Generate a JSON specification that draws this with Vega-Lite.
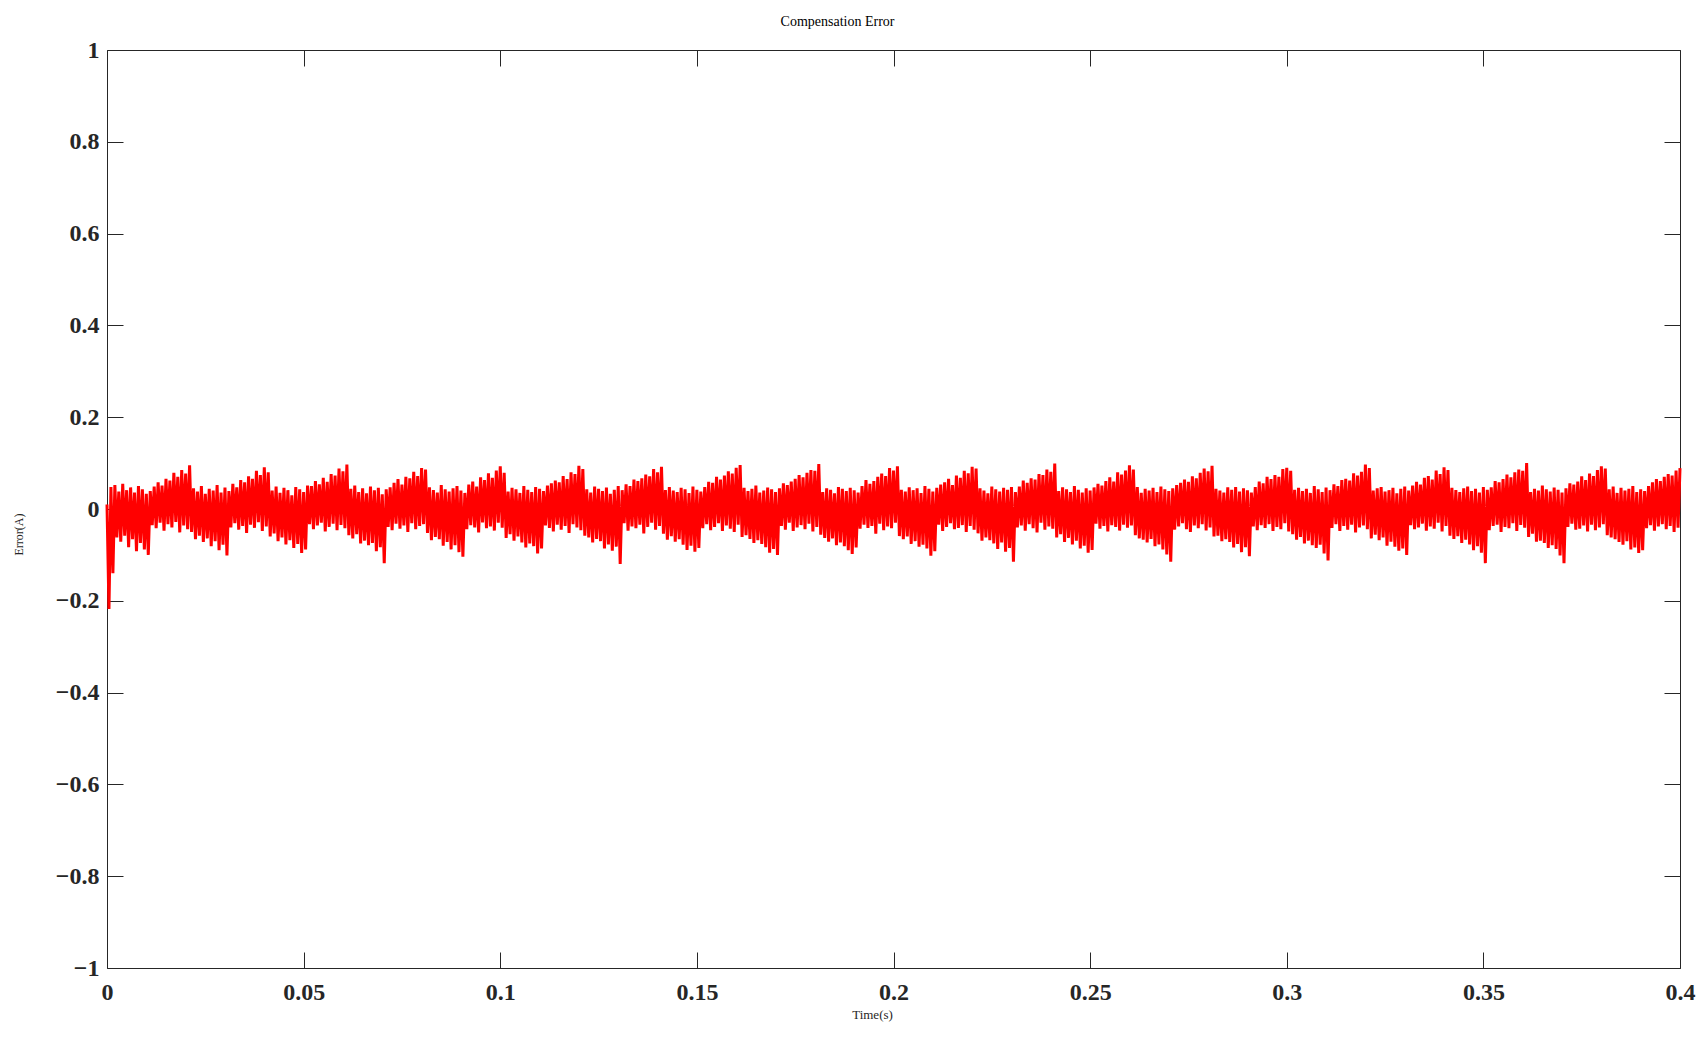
{
  "$schema": "https://vega.github.io/schema/vega-lite/v6.json",
  "width": 1573,
  "height": 918,
  "autosize": {"type": "none"},
  "padding": {"left": 107, "top": 50, "right": 26, "bottom": 70},
  "background": "white",
  "title": {
    "text": "Compensation Error",
    "font": "Liberation Serif",
    "fontSize": 14,
    "fontWeight": "normal",
    "color": "black",
    "anchor": "middle",
    "dx": -56,
    "offset": 9
  },
  "config": {
    "view": {"stroke": null},
    "axis": {
      "grid": false,
      "domainColor": "#262626",
      "domainWidth": 1,
      "tickColor": "#262626",
      "tickWidth": 1,
      "tickSize": -16,
      "labelFont": "Liberation Serif",
      "labelFontWeight": "bold",
      "labelFontSize": 24,
      "labelColor": "#262626",
      "labelFlush": false,
      "labelOverlap": false,
      "titleFont": "Liberation Serif",
      "titleFontWeight": "normal",
      "titleColor": "#262626"
    }
  },
  "data": {"values": [
{"t":0.0000,"e":0.010},{"t":0.0005,"e":-0.218},{"t":0.0010,"e":0.048},{"t":0.0015,"e":-0.140},{"t":0.0020,"e":0.052},{"t":0.0025,"e":-0.062},{"t":0.0030,"e":0.038},{"t":0.0035,"e":-0.071},{"t":0.0040,"e":0.055},{"t":0.0045,"e":-0.058},{"t":0.0050,"e":0.041},{"t":0.0055,"e":-0.083},{"t":0.0060,"e":0.047},{"t":0.0065,"e":-0.066},{"t":0.0070,"e":0.036},{"t":0.0075,"e":-0.092},{"t":0.0080,"e":0.050},{"t":0.0085,"e":-0.074},{"t":0.0090,"e":0.043},{"t":0.0095,"e":-0.088},{"t":0.0100,"e":0.033},{"t":0.0105,"e":-0.100},{"t":0.0110,"e":0.039},
{"t":0.0115,"e":-0.035},{"t":0.0120,"e":0.049},{"t":0.0125,"e":-0.042},{"t":0.0130,"e":0.058},{"t":0.0135,"e":-0.030},{"t":0.0140,"e":0.051},{"t":0.0145,"e":-0.047},{"t":0.0150,"e":0.066},{"t":0.0155,"e":-0.033},{"t":0.0160,"e":0.062},{"t":0.0165,"e":-0.040},{"t":0.0170,"e":0.079},{"t":0.0175,"e":-0.028},{"t":0.0180,"e":0.070},{"t":0.0185,"e":-0.051},{"t":0.0190,"e":0.085},{"t":0.0195,"e":-0.036},{"t":0.0200,"e":0.077},{"t":0.0205,"e":-0.044},{"t":0.0210,"e":0.095},
{"t":0.0215,"e":-0.050},{"t":0.0220,"e":0.045},{"t":0.0225,"e":-0.066},{"t":0.0230,"e":0.038},{"t":0.0235,"e":-0.058},{"t":0.0240,"e":0.050},{"t":0.0245,"e":-0.072},{"t":0.0250,"e":0.033},{"t":0.0255,"e":-0.064},{"t":0.0260,"e":0.044},{"t":0.0265,"e":-0.081},{"t":0.0270,"e":0.040},{"t":0.0275,"e":-0.070},{"t":0.0280,"e":0.052},{"t":0.0285,"e":-0.090},{"t":0.0290,"e":0.036},{"t":0.0295,"e":-0.078},{"t":0.0300,"e":0.047},{"t":0.0305,"e":-0.101},{"t":0.0310,"e":0.039},
{"t":0.0315,"e":-0.040},{"t":0.0320,"e":0.055},{"t":0.0325,"e":-0.031},{"t":0.0330,"e":0.047},{"t":0.0335,"e":-0.045},{"t":0.0340,"e":0.063},{"t":0.0345,"e":-0.037},{"t":0.0350,"e":0.058},{"t":0.0355,"e":-0.052},{"t":0.0360,"e":0.071},{"t":0.0365,"e":-0.034},{"t":0.0370,"e":0.066},{"t":0.0375,"e":-0.041},{"t":0.0380,"e":0.083},{"t":0.0385,"e":-0.029},{"t":0.0390,"e":0.074},{"t":0.0395,"e":-0.048},{"t":0.0400,"e":0.091},{"t":0.0405,"e":-0.038},{"t":0.0410,"e":0.080},
{"t":0.0415,"e":-0.060},{"t":0.0420,"e":0.040},{"t":0.0425,"e":-0.053},{"t":0.0430,"e":0.049},{"t":0.0435,"e":-0.070},{"t":0.0440,"e":0.035},{"t":0.0445,"e":-0.062},{"t":0.0450,"e":0.046},{"t":0.0455,"e":-0.077},{"t":0.0460,"e":0.041},{"t":0.0465,"e":-0.068},{"t":0.0470,"e":0.030},{"t":0.0475,"e":-0.085},{"t":0.0480,"e":0.048},{"t":0.0485,"e":-0.076},{"t":0.0490,"e":0.043},{"t":0.0495,"e":-0.096},{"t":0.0500,"e":0.037},{"t":0.0505,"e":-0.088},{"t":0.0510,"e":0.051},
{"t":0.0515,"e":-0.033},{"t":0.0520,"e":0.050},{"t":0.0525,"e":-0.044},{"t":0.0530,"e":0.061},{"t":0.0535,"e":-0.036},{"t":0.0540,"e":0.054},{"t":0.0545,"e":-0.030},{"t":0.0550,"e":0.068},{"t":0.0555,"e":-0.049},{"t":0.0560,"e":0.059},{"t":0.0565,"e":-0.039},{"t":0.0570,"e":0.076},{"t":0.0575,"e":-0.032},{"t":0.0580,"e":0.073},{"t":0.0585,"e":-0.046},{"t":0.0590,"e":0.088},{"t":0.0595,"e":-0.035},{"t":0.0600,"e":0.082},{"t":0.0605,"e":-0.042},{"t":0.0610,"e":0.097},
{"t":0.0615,"e":-0.057},{"t":0.0620,"e":0.044},{"t":0.0625,"e":-0.064},{"t":0.0630,"e":0.051},{"t":0.0635,"e":-0.055},{"t":0.0640,"e":0.037},{"t":0.0645,"e":-0.075},{"t":0.0650,"e":0.045},{"t":0.0655,"e":-0.069},{"t":0.0660,"e":0.034},{"t":0.0665,"e":-0.079},{"t":0.0670,"e":0.049},{"t":0.0675,"e":-0.074},{"t":0.0680,"e":0.041},{"t":0.0685,"e":-0.092},{"t":0.0690,"e":0.046},{"t":0.0695,"e":-0.083},{"t":0.0700,"e":0.032},{"t":0.0705,"e":-0.118},{"t":0.0710,"e":0.043},
{"t":0.0715,"e":-0.039},{"t":0.0720,"e":0.047},{"t":0.0725,"e":-0.046},{"t":0.0730,"e":0.057},{"t":0.0735,"e":-0.032},{"t":0.0740,"e":0.065},{"t":0.0745,"e":-0.043},{"t":0.0750,"e":0.053},{"t":0.0755,"e":-0.036},{"t":0.0760,"e":0.070},{"t":0.0765,"e":-0.050},{"t":0.0770,"e":0.067},{"t":0.0775,"e":-0.031},{"t":0.0780,"e":0.081},{"t":0.0785,"e":-0.044},{"t":0.0790,"e":0.072},{"t":0.0795,"e":-0.037},{"t":0.0800,"e":0.089},{"t":0.0805,"e":-0.033},{"t":0.0810,"e":0.086},
{"t":0.0815,"e":-0.052},{"t":0.0820,"e":0.047},{"t":0.0825,"e":-0.068},{"t":0.0830,"e":0.041},{"t":0.0835,"e":-0.061},{"t":0.0840,"e":0.036},{"t":0.0845,"e":-0.066},{"t":0.0850,"e":0.052},{"t":0.0855,"e":-0.080},{"t":0.0860,"e":0.043},{"t":0.0865,"e":-0.072},{"t":0.0870,"e":0.038},{"t":0.0875,"e":-0.088},{"t":0.0880,"e":0.045},{"t":0.0885,"e":-0.079},{"t":0.0890,"e":0.050},{"t":0.0895,"e":-0.094},{"t":0.0900,"e":0.040},{"t":0.0905,"e":-0.104},{"t":0.0910,"e":0.035},
{"t":0.0915,"e":-0.044},{"t":0.0920,"e":0.053},{"t":0.0925,"e":-0.035},{"t":0.0930,"e":0.060},{"t":0.0935,"e":-0.040},{"t":0.0940,"e":0.049},{"t":0.0945,"e":-0.051},{"t":0.0950,"e":0.069},{"t":0.0955,"e":-0.029},{"t":0.0960,"e":0.063},{"t":0.0965,"e":-0.042},{"t":0.0970,"e":0.078},{"t":0.0975,"e":-0.038},{"t":0.0980,"e":0.068},{"t":0.0985,"e":-0.047},{"t":0.0990,"e":0.084},{"t":0.0995,"e":-0.030},{"t":0.1000,"e":0.093},{"t":0.1005,"e":-0.041},{"t":0.1010,"e":0.079},
{"t":0.1015,"e":-0.063},{"t":0.1020,"e":0.038},{"t":0.1025,"e":-0.055},{"t":0.1030,"e":0.046},{"t":0.1035,"e":-0.069},{"t":0.1040,"e":0.043},{"t":0.1045,"e":-0.060},{"t":0.1050,"e":0.035},{"t":0.1055,"e":-0.073},{"t":0.1060,"e":0.050},{"t":0.1065,"e":-0.084},{"t":0.1070,"e":0.042},{"t":0.1075,"e":-0.075},{"t":0.1080,"e":0.037},{"t":0.1085,"e":-0.081},{"t":0.1090,"e":0.048},{"t":0.1095,"e":-0.097},{"t":0.1100,"e":0.044},{"t":0.1105,"e":-0.086},{"t":0.1110,"e":0.039},
{"t":0.1115,"e":-0.036},{"t":0.1120,"e":0.051},{"t":0.1125,"e":-0.041},{"t":0.1130,"e":0.056},{"t":0.1135,"e":-0.049},{"t":0.1140,"e":0.062},{"t":0.1145,"e":-0.034},{"t":0.1150,"e":0.058},{"t":0.1155,"e":-0.045},{"t":0.1160,"e":0.072},{"t":0.1165,"e":-0.037},{"t":0.1170,"e":0.065},{"t":0.1175,"e":-0.052},{"t":0.1180,"e":0.080},{"t":0.1185,"e":-0.033},{"t":0.1190,"e":0.076},{"t":0.1195,"e":-0.040},{"t":0.1200,"e":0.094},{"t":0.1205,"e":-0.046},{"t":0.1210,"e":0.087},
{"t":0.1215,"e":-0.058},{"t":0.1220,"e":0.043},{"t":0.1225,"e":-0.062},{"t":0.1230,"e":0.036},{"t":0.1235,"e":-0.073},{"t":0.1240,"e":0.049},{"t":0.1245,"e":-0.065},{"t":0.1250,"e":0.044},{"t":0.1255,"e":-0.070},{"t":0.1260,"e":0.039},{"t":0.1265,"e":-0.086},{"t":0.1270,"e":0.047},{"t":0.1275,"e":-0.077},{"t":0.1280,"e":0.033},{"t":0.1285,"e":-0.091},{"t":0.1290,"e":0.042},{"t":0.1295,"e":-0.082},{"t":0.1300,"e":0.050},{"t":0.1305,"e":-0.120},{"t":0.1310,"e":0.041},
{"t":0.1315,"e":-0.031},{"t":0.1320,"e":0.054},{"t":0.1325,"e":-0.047},{"t":0.1330,"e":0.050},{"t":0.1335,"e":-0.038},{"t":0.1340,"e":0.064},{"t":0.1345,"e":-0.042},{"t":0.1350,"e":0.061},{"t":0.1355,"e":-0.034},{"t":0.1360,"e":0.067},{"t":0.1365,"e":-0.053},{"t":0.1370,"e":0.075},{"t":0.1375,"e":-0.039},{"t":0.1380,"e":0.071},{"t":0.1385,"e":-0.030},{"t":0.1390,"e":0.087},{"t":0.1395,"e":-0.045},{"t":0.1400,"e":0.080},{"t":0.1405,"e":-0.037},{"t":0.1410,"e":0.092},
{"t":0.1415,"e":-0.054},{"t":0.1420,"e":0.041},{"t":0.1425,"e":-0.067},{"t":0.1430,"e":0.048},{"t":0.1435,"e":-0.059},{"t":0.1440,"e":0.040},{"t":0.1445,"e":-0.071},{"t":0.1450,"e":0.037},{"t":0.1455,"e":-0.066},{"t":0.1460,"e":0.046},{"t":0.1465,"e":-0.078},{"t":0.1470,"e":0.043},{"t":0.1475,"e":-0.089},{"t":0.1480,"e":0.035},{"t":0.1485,"e":-0.080},{"t":0.1490,"e":0.049},{"t":0.1495,"e":-0.093},{"t":0.1500,"e":0.042},{"t":0.1505,"e":-0.085},{"t":0.1510,"e":0.038},
{"t":0.1515,"e":-0.042},{"t":0.1520,"e":0.048},{"t":0.1525,"e":-0.033},{"t":0.1530,"e":0.059},{"t":0.1535,"e":-0.046},{"t":0.1540,"e":0.057},{"t":0.1545,"e":-0.039},{"t":0.1550,"e":0.070},{"t":0.1555,"e":-0.031},{"t":0.1560,"e":0.064},{"t":0.1565,"e":-0.048},{"t":0.1570,"e":0.073},{"t":0.1575,"e":-0.036},{"t":0.1580,"e":0.082},{"t":0.1585,"e":-0.043},{"t":0.1590,"e":0.077},{"t":0.1595,"e":-0.050},{"t":0.1600,"e":0.090},{"t":0.1605,"e":-0.034},{"t":0.1610,"e":0.096},
{"t":0.1615,"e":-0.061},{"t":0.1620,"e":0.046},{"t":0.1625,"e":-0.057},{"t":0.1630,"e":0.039},{"t":0.1635,"e":-0.065},{"t":0.1640,"e":0.044},{"t":0.1645,"e":-0.074},{"t":0.1650,"e":0.051},{"t":0.1655,"e":-0.068},{"t":0.1660,"e":0.036},{"t":0.1665,"e":-0.076},{"t":0.1670,"e":0.040},{"t":0.1675,"e":-0.083},{"t":0.1680,"e":0.047},{"t":0.1685,"e":-0.095},{"t":0.1690,"e":0.043},{"t":0.1695,"e":-0.087},{"t":0.1700,"e":0.037},{"t":0.1705,"e":-0.100},{"t":0.1710,"e":0.045},
{"t":0.1715,"e":-0.037},{"t":0.1720,"e":0.056},{"t":0.1725,"e":-0.045},{"t":0.1730,"e":0.052},{"t":0.1735,"e":-0.030},{"t":0.1740,"e":0.060},{"t":0.1745,"e":-0.048},{"t":0.1750,"e":0.066},{"t":0.1755,"e":-0.040},{"t":0.1760,"e":0.074},{"t":0.1765,"e":-0.035},{"t":0.1770,"e":0.069},{"t":0.1775,"e":-0.044},{"t":0.1780,"e":0.079},{"t":0.1785,"e":-0.032},{"t":0.1790,"e":0.085},{"t":0.1795,"e":-0.049},{"t":0.1800,"e":0.083},{"t":0.1805,"e":-0.039},{"t":0.1810,"e":0.098},
{"t":0.1815,"e":-0.056},{"t":0.1820,"e":0.037},{"t":0.1825,"e":-0.063},{"t":0.1830,"e":0.045},{"t":0.1835,"e":-0.071},{"t":0.1840,"e":0.042},{"t":0.1845,"e":-0.064},{"t":0.1850,"e":0.034},{"t":0.1855,"e":-0.079},{"t":0.1860,"e":0.048},{"t":0.1865,"e":-0.073},{"t":0.1870,"e":0.044},{"t":0.1875,"e":-0.081},{"t":0.1880,"e":0.039},{"t":0.1885,"e":-0.090},{"t":0.1890,"e":0.046},{"t":0.1895,"e":-0.098},{"t":0.1900,"e":0.041},{"t":0.1905,"e":-0.084},{"t":0.1910,"e":0.036},
{"t":0.1915,"e":-0.043},{"t":0.1920,"e":0.050},{"t":0.1925,"e":-0.034},{"t":0.1930,"e":0.063},{"t":0.1935,"e":-0.041},{"t":0.1940,"e":0.055},{"t":0.1945,"e":-0.037},{"t":0.1950,"e":0.061},{"t":0.1955,"e":-0.054},{"t":0.1960,"e":0.070},{"t":0.1965,"e":-0.032},{"t":0.1970,"e":0.077},{"t":0.1975,"e":-0.046},{"t":0.1980,"e":0.072},{"t":0.1985,"e":-0.038},{"t":0.1990,"e":0.089},{"t":0.1995,"e":-0.042},{"t":0.2000,"e":0.084},{"t":0.2005,"e":-0.030},{"t":0.2010,"e":0.093},
{"t":0.2015,"e":-0.059},{"t":0.2020,"e":0.042},{"t":0.2025,"e":-0.066},{"t":0.2030,"e":0.038},{"t":0.2035,"e":-0.060},{"t":0.2040,"e":0.047},{"t":0.2045,"e":-0.076},{"t":0.2050,"e":0.041},{"t":0.2055,"e":-0.070},{"t":0.2060,"e":0.045},{"t":0.2065,"e":-0.082},{"t":0.2070,"e":0.035},{"t":0.2075,"e":-0.078},{"t":0.2080,"e":0.050},{"t":0.2085,"e":-0.086},{"t":0.2090,"e":0.044},{"t":0.2095,"e":-0.102},{"t":0.2100,"e":0.038},{"t":0.2105,"e":-0.092},{"t":0.2110,"e":0.046},
{"t":0.2115,"e":-0.034},{"t":0.2120,"e":0.053},{"t":0.2125,"e":-0.048},{"t":0.2130,"e":0.058},{"t":0.2135,"e":-0.039},{"t":0.2140,"e":0.066},{"t":0.2145,"e":-0.031},{"t":0.2150,"e":0.052},{"t":0.2155,"e":-0.044},{"t":0.2160,"e":0.073},{"t":0.2165,"e":-0.041},{"t":0.2170,"e":0.068},{"t":0.2175,"e":-0.035},{"t":0.2180,"e":0.083},{"t":0.2185,"e":-0.050},{"t":0.2190,"e":0.078},{"t":0.2195,"e":-0.037},{"t":0.2200,"e":0.092},{"t":0.2205,"e":-0.045},{"t":0.2210,"e":0.088},
{"t":0.2215,"e":-0.053},{"t":0.2220,"e":0.045},{"t":0.2225,"e":-0.069},{"t":0.2230,"e":0.040},{"t":0.2235,"e":-0.062},{"t":0.2240,"e":0.034},{"t":0.2245,"e":-0.068},{"t":0.2250,"e":0.049},{"t":0.2255,"e":-0.075},{"t":0.2260,"e":0.043},{"t":0.2265,"e":-0.087},{"t":0.2270,"e":0.038},{"t":0.2275,"e":-0.073},{"t":0.2280,"e":0.046},{"t":0.2285,"e":-0.093},{"t":0.2290,"e":0.042},{"t":0.2295,"e":-0.085},{"t":0.2300,"e":0.048},{"t":0.2305,"e":-0.115},{"t":0.2310,"e":0.037},
{"t":0.2315,"e":-0.040},{"t":0.2320,"e":0.049},{"t":0.2325,"e":-0.036},{"t":0.2330,"e":0.062},{"t":0.2335,"e":-0.047},{"t":0.2340,"e":0.057},{"t":0.2345,"e":-0.033},{"t":0.2350,"e":0.067},{"t":0.2355,"e":-0.042},{"t":0.2360,"e":0.064},{"t":0.2365,"e":-0.051},{"t":0.2370,"e":0.076},{"t":0.2375,"e":-0.030},{"t":0.2380,"e":0.074},{"t":0.2385,"e":-0.045},{"t":0.2390,"e":0.086},{"t":0.2395,"e":-0.038},{"t":0.2400,"e":0.081},{"t":0.2405,"e":-0.043},{"t":0.2410,"e":0.099},
{"t":0.2415,"e":-0.062},{"t":0.2420,"e":0.039},{"t":0.2425,"e":-0.055},{"t":0.2430,"e":0.047},{"t":0.2435,"e":-0.072},{"t":0.2440,"e":0.043},{"t":0.2445,"e":-0.063},{"t":0.2450,"e":0.037},{"t":0.2455,"e":-0.077},{"t":0.2460,"e":0.050},{"t":0.2465,"e":-0.069},{"t":0.2470,"e":0.042},{"t":0.2475,"e":-0.086},{"t":0.2480,"e":0.036},{"t":0.2485,"e":-0.080},{"t":0.2490,"e":0.045},{"t":0.2495,"e":-0.095},{"t":0.2500,"e":0.040},{"t":0.2505,"e":-0.089},{"t":0.2510,"e":0.047},
{"t":0.2515,"e":-0.032},{"t":0.2520,"e":0.055},{"t":0.2525,"e":-0.043},{"t":0.2530,"e":0.051},{"t":0.2535,"e":-0.037},{"t":0.2540,"e":0.061},{"t":0.2545,"e":-0.049},{"t":0.2550,"e":0.069},{"t":0.2555,"e":-0.035},{"t":0.2560,"e":0.060},{"t":0.2565,"e":-0.039},{"t":0.2570,"e":0.080},{"t":0.2575,"e":-0.047},{"t":0.2580,"e":0.075},{"t":0.2585,"e":-0.034},{"t":0.2590,"e":0.084},{"t":0.2595,"e":-0.041},{"t":0.2600,"e":0.095},{"t":0.2605,"e":-0.036},{"t":0.2610,"e":0.086},
{"t":0.2615,"e":-0.057},{"t":0.2620,"e":0.048},{"t":0.2625,"e":-0.064},{"t":0.2630,"e":0.035},{"t":0.2635,"e":-0.067},{"t":0.2640,"e":0.044},{"t":0.2645,"e":-0.073},{"t":0.2650,"e":0.040},{"t":0.2655,"e":-0.065},{"t":0.2660,"e":0.046},{"t":0.2665,"e":-0.081},{"t":0.2670,"e":0.037},{"t":0.2675,"e":-0.077},{"t":0.2680,"e":0.049},{"t":0.2685,"e":-0.088},{"t":0.2690,"e":0.043},{"t":0.2695,"e":-0.099},{"t":0.2700,"e":0.039},{"t":0.2705,"e":-0.115},{"t":0.2710,"e":0.045},
{"t":0.2715,"e":-0.045},{"t":0.2720,"e":0.052},{"t":0.2725,"e":-0.038},{"t":0.2730,"e":0.057},{"t":0.2735,"e":-0.031},{"t":0.2740,"e":0.064},{"t":0.2745,"e":-0.044},{"t":0.2750,"e":0.059},{"t":0.2755,"e":-0.050},{"t":0.2760,"e":0.071},{"t":0.2765,"e":-0.036},{"t":0.2770,"e":0.067},{"t":0.2775,"e":-0.042},{"t":0.2780,"e":0.079},{"t":0.2785,"e":-0.033},{"t":0.2790,"e":0.088},{"t":0.2795,"e":-0.047},{"t":0.2800,"e":0.082},{"t":0.2805,"e":-0.040},{"t":0.2810,"e":0.094},
{"t":0.2815,"e":-0.060},{"t":0.2820,"e":0.044},{"t":0.2825,"e":-0.058},{"t":0.2830,"e":0.040},{"t":0.2835,"e":-0.070},{"t":0.2840,"e":0.036},{"t":0.2845,"e":-0.066},{"t":0.2850,"e":0.047},{"t":0.2855,"e":-0.072},{"t":0.2860,"e":0.042},{"t":0.2865,"e":-0.084},{"t":0.2870,"e":0.048},{"t":0.2875,"e":-0.076},{"t":0.2880,"e":0.038},{"t":0.2885,"e":-0.094},{"t":0.2890,"e":0.045},{"t":0.2895,"e":-0.083},{"t":0.2900,"e":0.041},{"t":0.2905,"e":-0.103},{"t":0.2910,"e":0.036},
{"t":0.2915,"e":-0.038},{"t":0.2920,"e":0.048},{"t":0.2925,"e":-0.046},{"t":0.2930,"e":0.060},{"t":0.2935,"e":-0.035},{"t":0.2940,"e":0.056},{"t":0.2945,"e":-0.041},{"t":0.2950,"e":0.070},{"t":0.2955,"e":-0.033},{"t":0.2960,"e":0.065},{"t":0.2965,"e":-0.048},{"t":0.2970,"e":0.074},{"t":0.2975,"e":-0.039},{"t":0.2980,"e":0.070},{"t":0.2985,"e":-0.044},{"t":0.2990,"e":0.087},{"t":0.2995,"e":-0.031},{"t":0.3000,"e":0.090},{"t":0.3005,"e":-0.049},{"t":0.3010,"e":0.083},
{"t":0.3015,"e":-0.055},{"t":0.3020,"e":0.042},{"t":0.3025,"e":-0.067},{"t":0.3030,"e":0.046},{"t":0.3035,"e":-0.061},{"t":0.3040,"e":0.039},{"t":0.3045,"e":-0.075},{"t":0.3050,"e":0.044},{"t":0.3055,"e":-0.069},{"t":0.3060,"e":0.035},{"t":0.3065,"e":-0.079},{"t":0.3070,"e":0.050},{"t":0.3075,"e":-0.085},{"t":0.3080,"e":0.043},{"t":0.3085,"e":-0.078},{"t":0.3090,"e":0.037},{"t":0.3095,"e":-0.097},{"t":0.3100,"e":0.047},{"t":0.3105,"e":-0.112},{"t":0.3110,"e":0.041},
{"t":0.3115,"e":-0.041},{"t":0.3120,"e":0.054},{"t":0.3125,"e":-0.033},{"t":0.3130,"e":0.050},{"t":0.3135,"e":-0.048},{"t":0.3140,"e":0.063},{"t":0.3145,"e":-0.037},{"t":0.3150,"e":0.066},{"t":0.3155,"e":-0.045},{"t":0.3160,"e":0.062},{"t":0.3165,"e":-0.034},{"t":0.3170,"e":0.078},{"t":0.3175,"e":-0.051},{"t":0.3180,"e":0.073},{"t":0.3185,"e":-0.040},{"t":0.3190,"e":0.081},{"t":0.3195,"e":-0.036},{"t":0.3200,"e":0.097},{"t":0.3205,"e":-0.044},{"t":0.3210,"e":0.089},
{"t":0.3215,"e":-0.064},{"t":0.3220,"e":0.040},{"t":0.3225,"e":-0.056},{"t":0.3230,"e":0.045},{"t":0.3235,"e":-0.068},{"t":0.3240,"e":0.048},{"t":0.3245,"e":-0.062},{"t":0.3250,"e":0.038},{"t":0.3255,"e":-0.080},{"t":0.3260,"e":0.041},{"t":0.3265,"e":-0.071},{"t":0.3270,"e":0.046},{"t":0.3275,"e":-0.082},{"t":0.3280,"e":0.034},{"t":0.3285,"e":-0.091},{"t":0.3290,"e":0.044},{"t":0.3295,"e":-0.086},{"t":0.3300,"e":0.049},{"t":0.3305,"e":-0.100},{"t":0.3310,"e":0.040},
{"t":0.3315,"e":-0.035},{"t":0.3320,"e":0.051},{"t":0.3325,"e":-0.044},{"t":0.3330,"e":0.059},{"t":0.3335,"e":-0.040},{"t":0.3340,"e":0.053},{"t":0.3345,"e":-0.032},{"t":0.3350,"e":0.068},{"t":0.3355,"e":-0.047},{"t":0.3360,"e":0.072},{"t":0.3365,"e":-0.038},{"t":0.3370,"e":0.064},{"t":0.3375,"e":-0.043},{"t":0.3380,"e":0.084},{"t":0.3385,"e":-0.030},{"t":0.3390,"e":0.076},{"t":0.3395,"e":-0.049},{"t":0.3400,"e":0.091},{"t":0.3405,"e":-0.037},{"t":0.3410,"e":0.085},
{"t":0.3415,"e":-0.058},{"t":0.3420,"e":0.046},{"t":0.3425,"e":-0.065},{"t":0.3430,"e":0.041},{"t":0.3435,"e":-0.059},{"t":0.3440,"e":0.037},{"t":0.3445,"e":-0.074},{"t":0.3450,"e":0.045},{"t":0.3455,"e":-0.067},{"t":0.3460,"e":0.049},{"t":0.3465,"e":-0.077},{"t":0.3470,"e":0.039},{"t":0.3475,"e":-0.090},{"t":0.3480,"e":0.044},{"t":0.3485,"e":-0.081},{"t":0.3490,"e":0.036},{"t":0.3495,"e":-0.095},{"t":0.3500,"e":0.048},{"t":0.3505,"e":-0.118},{"t":0.3510,"e":0.042},
{"t":0.3515,"e":-0.046},{"t":0.3520,"e":0.047},{"t":0.3525,"e":-0.037},{"t":0.3530,"e":0.061},{"t":0.3535,"e":-0.034},{"t":0.3540,"e":0.058},{"t":0.3545,"e":-0.050},{"t":0.3550,"e":0.065},{"t":0.3555,"e":-0.039},{"t":0.3560,"e":0.075},{"t":0.3565,"e":-0.042},{"t":0.3570,"e":0.069},{"t":0.3575,"e":-0.031},{"t":0.3580,"e":0.080},{"t":0.3585,"e":-0.048},{"t":0.3590,"e":0.086},{"t":0.3595,"e":-0.035},{"t":0.3600,"e":0.083},{"t":0.3605,"e":-0.041},{"t":0.3610,"e":0.100},
{"t":0.3615,"e":-0.061},{"t":0.3620,"e":0.037},{"t":0.3625,"e":-0.054},{"t":0.3630,"e":0.044},{"t":0.3635,"e":-0.071},{"t":0.3640,"e":0.040},{"t":0.3645,"e":-0.069},{"t":0.3650,"e":0.051},{"t":0.3655,"e":-0.074},{"t":0.3660,"e":0.043},{"t":0.3665,"e":-0.085},{"t":0.3670,"e":0.038},{"t":0.3675,"e":-0.079},{"t":0.3680,"e":0.047},{"t":0.3685,"e":-0.087},{"t":0.3690,"e":0.042},{"t":0.3695,"e":-0.101},{"t":0.3700,"e":0.036},{"t":0.3705,"e":-0.118},{"t":0.3710,"e":0.045},
{"t":0.3715,"e":-0.039},{"t":0.3720,"e":0.056},{"t":0.3725,"e":-0.032},{"t":0.3730,"e":0.053},{"t":0.3735,"e":-0.045},{"t":0.3740,"e":0.060},{"t":0.3745,"e":-0.043},{"t":0.3750,"e":0.071},{"t":0.3755,"e":-0.036},{"t":0.3760,"e":0.063},{"t":0.3765,"e":-0.049},{"t":0.3770,"e":0.077},{"t":0.3775,"e":-0.034},{"t":0.3780,"e":0.072},{"t":0.3785,"e":-0.046},{"t":0.3790,"e":0.085},{"t":0.3795,"e":-0.040},{"t":0.3800,"e":0.093},{"t":0.3805,"e":-0.033},{"t":0.3810,"e":0.088},
{"t":0.3815,"e":-0.057},{"t":0.3820,"e":0.043},{"t":0.3825,"e":-0.062},{"t":0.3830,"e":0.049},{"t":0.3835,"e":-0.066},{"t":0.3840,"e":0.035},{"t":0.3845,"e":-0.072},{"t":0.3850,"e":0.046},{"t":0.3855,"e":-0.078},{"t":0.3860,"e":0.040},{"t":0.3865,"e":-0.070},{"t":0.3870,"e":0.044},{"t":0.3875,"e":-0.088},{"t":0.3880,"e":0.050},{"t":0.3885,"e":-0.084},{"t":0.3890,"e":0.037},{"t":0.3895,"e":-0.096},{"t":0.3900,"e":0.043},{"t":0.3905,"e":-0.090},{"t":0.3910,"e":0.039},
{"t":0.3915,"e":-0.042},{"t":0.3920,"e":0.050},{"t":0.3925,"e":-0.035},{"t":0.3930,"e":0.058},{"t":0.3935,"e":-0.047},{"t":0.3940,"e":0.065},{"t":0.3945,"e":-0.038},{"t":0.3950,"e":0.061},{"t":0.3955,"e":-0.033},{"t":0.3960,"e":0.070},{"t":0.3965,"e":-0.044},{"t":0.3970,"e":0.076},{"t":0.3975,"e":-0.037},{"t":0.3980,"e":0.073},{"t":0.3985,"e":-0.050},{"t":0.3990,"e":0.084},{"t":0.3995,"e":-0.041},{"t":0.4000,"e":0.089}
  ]},
  "layer": [
    {
      "mark": {"type": "line", "color": "#ff0000", "strokeWidth": 3},
      "encoding": {
        "x": {
          "field": "t",
          "type": "quantitative",
          "scale": {"domain": [0, 0.4], "nice": false, "zero": false},
          "axis": {
            "orient": "bottom",
            "values": [0, 0.05, 0.1, 0.15, 0.2, 0.25, 0.3, 0.35, 0.4],
            "format": "~g",
            "labelPadding": 28,
            "title": "Time(s)",
            "titleFontSize": 13,
            "titleX": 765,
            "titleY": 50,
            "titleBaseline": "alphabetic",
            "titleAlign": "center"
          }
        },
        "y": {
          "field": "e",
          "type": "quantitative",
          "scale": {"domain": [-1, 1], "nice": false, "zero": false},
          "axis": {
            "orient": "left",
            "values": [-1, -0.8, -0.6, -0.4, -0.2, 0, 0.2, 0.4, 0.6, 0.8, 1],
            "format": "~g",
            "labelPadding": 24,
            "title": "Error(A)",
            "titleFontSize": 12,
            "titleX": -85,
            "titleY": 484,
            "titleBaseline": "alphabetic",
            "titleAlign": "center",
            "titleAngle": -90
          }
        }
      }
    },
    {
      "mark": {"type": "line", "strokeOpacity": 0},
      "encoding": {
        "x": {
          "field": "t",
          "type": "quantitative",
          "axis": {
            "orient": "top",
            "values": [0, 0.05, 0.1, 0.15, 0.2, 0.25, 0.3, 0.35, 0.4],
            "labels": false,
            "title": null
          }
        },
        "y": {
          "field": "e",
          "type": "quantitative",
          "axis": {
            "orient": "right",
            "values": [-1, -0.8, -0.6, -0.4, -0.2, 0, 0.2, 0.4, 0.6, 0.8, 1],
            "labels": false,
            "title": null
          }
        }
      }
    }
  ],
  "resolve": {"axis": {"x": "independent", "y": "independent"}}
}
